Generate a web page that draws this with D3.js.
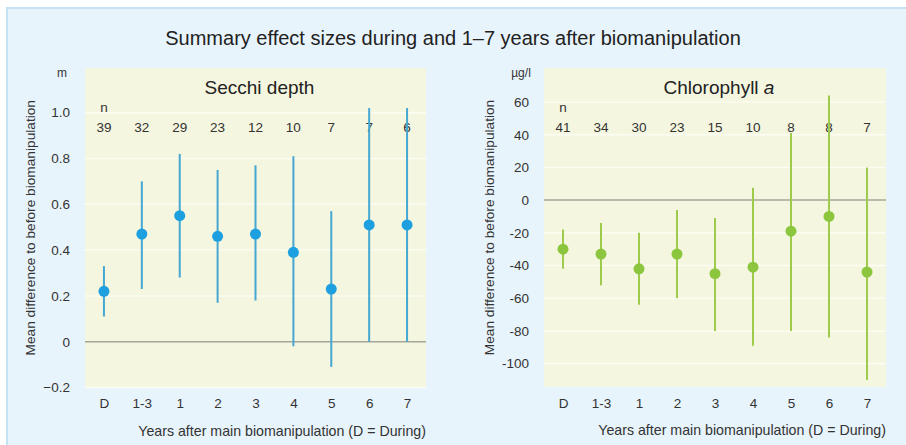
<!DOCTYPE html>
<html>
<head>
<meta charset="utf-8">
<script src="https://cdn.jsdelivr.net/npm/d3@7"></script>
<style>
body{margin:0;background:#fff;font-family:"Liberation Sans",Arial,sans-serif;}
</style>
</head>
<body>
<svg id="chart" width="906" height="445"></svg>
<script>
var cats = ["D","1-3","1","2","3","4","5","6","7"]

// Secchi depth (m)
var secchiN = [39,32,29,23,12,10,7,7,6]
var secchiMean = [0.22,0.47,0.55,0.46,0.47,0.39,0.23,0.51,0.51]
var secchiLow  = [0.11,0.23,0.28,0.17,0.18,-0.02,-0.11,0.0,0.0]
var secchiHigh = [0.33,0.70,0.82,0.75,0.77,0.81,0.57,1.02,1.02]
var secchiTicks = [-0.2,0,0.2,0.4,0.6,0.8,1.0]

// Chlorophyll a (ug/l)
var chlN = [41,34,30,23,15,10,8,8,7]
var chlMean = [-30,-33,-42,-33,-45,-41,-19,-10,-44]
var chlLow  = [-42,-52,-64,-60,-80,-89,-80,-84,-110]
var chlHigh = [-18,-14,-20,-6,-11,7.5,41,64,20]
var chlTicks = [-100,-80,-60,-40,-20,0,20,40,60]

var width=906, height=445
var svg = d3.select("#chart")

// outer panel
svg.append("rect").attr("x",7).attr("y",8).attr("width",width).attr("height",height)
   .attr("fill","#e8f4fc").attr("stroke","#c4e2f3").attr("stroke-width",2)

svg.append("text").attr("x",453).attr("y",45).attr("text-anchor","middle")
   .attr("font-size",20).attr("fill","#222")
   .text("Summary effect sizes during and 1\u20137 years after biomanipulation")

function panel(opt){
    var g = svg.append("g")
    var x = d3.scalePoint().domain(cats).range([opt.x0,opt.x1]).padding(0.5)
    var y = d3.scaleLinear().domain(opt.domain).range([opt.y1,opt.y0])

    g.append("rect").attr("x",opt.x0).attr("y",opt.y0)
     .attr("width",opt.x1-opt.x0).attr("height",opt.y1-opt.y0).attr("fill","#f4f6df")

    // faint grid
    g.selectAll(".grid").data(opt.ticks.filter(d=>d!=0)).join("line")
     .attr("x1",opt.x0).attr("x2",opt.x1)
     .attr("y1",d=>y(d)).attr("y2",d=>y(d))
     .attr("stroke","#fbfcf2").attr("stroke-width",1.5)

    g.append("line").attr("x1",opt.x0).attr("x2",opt.x1)
     .attr("y1",y(0)).attr("y2",y(0)).attr("stroke","#a4a69a").attr("stroke-width",1.5)

    // y axis labels
    var ya = g.append("g").attr("transform","translate("+(opt.x0-12)+",0)")
       .call(d3.axisLeft(y).tickValues(opt.ticks).tickSize(0).tickFormat(opt.fmt))
    ya.select(".domain").remove()
    ya.selectAll("text").attr("font-size",13.5).attr("fill","#333")
       .attr("font-family","Liberation Sans, Arial, sans-serif")

    // x axis labels
    var xa = g.append("g").attr("transform","translate(0,"+(opt.y1+8)+")")
       .call(d3.axisBottom(x).tickSize(0))
    xa.select(".domain").remove()
    xa.selectAll("text").attr("font-size",13.5).attr("fill","#333")
       .attr("font-family","Liberation Sans, Arial, sans-serif")

    g.append("text").attr("x",opt.x0-23).attr("y",opt.y0+9).attr("text-anchor","middle")
     .attr("font-size",12).attr("fill","#333").text(opt.unit)

    g.append("text").attr("x",opt.x1).attr("y",opt.y1+48).attr("text-anchor","end")
     .attr("font-size",14.2).attr("fill","#333").text("Years after main biomanipulation (D = During)")

    g.append("text").attr("transform","translate("+(opt.x0-50)+","+((opt.y0+opt.y1)/2)+") rotate(-90)")
     .attr("text-anchor","middle").attr("font-size",13.7).attr("fill","#333")
     .text("Mean difference to before biomanipulation")

    var t = g.append("text").attr("x",(opt.x0+opt.x1)/2+4).attr("y",opt.y0+26)
     .attr("text-anchor","middle").attr("font-size",19).attr("fill","#222")
    t.append("tspan").text(opt.title)
    if(opt.italic) t.append("tspan").attr("font-style","italic").text(" "+opt.italic)

    g.append("text").attr("x",x("D")).attr("y",opt.y0+44).attr("text-anchor","middle")
     .attr("font-size",13.5).attr("fill","#333").text("n")
    g.selectAll(".nlab").data(opt.n).join("text")
     .attr("x",(d,i)=>x(cats[i])).attr("y",opt.y0+64).attr("text-anchor","middle")
     .attr("font-size",13.5).attr("fill","#333").text(d=>d)

    g.selectAll(".err").data(opt.mean).join("line")
     .attr("x1",(d,i)=>x(cats[i])).attr("x2",(d,i)=>x(cats[i]))
     .attr("y1",(d,i)=>y(opt.low[i])).attr("y2",(d,i)=>y(opt.high[i]))
     .attr("stroke",opt.line).attr("stroke-width",2)

    g.selectAll(".dot").data(opt.mean).join("circle")
     .attr("cx",(d,i)=>x(cats[i])).attr("cy",d=>y(d)).attr("r",5.5)
     .attr("fill",opt.dot)
}

panel({x0:85,x1:426,y0:68,y1:387.5,domain:[-0.2,1.195],ticks:secchiTicks,
       fmt:d=>d==0?"0":d3.format(".1f")(d),unit:"m",title:"Secchi depth",
       n:secchiN,mean:secchiMean,low:secchiLow,high:secchiHigh,line:"#45a7d2",dot:"#1d9fe0"})

panel({x0:544,x1:886,y0:68,y1:387,domain:[-114.3,80.8],ticks:chlTicks,
       fmt:d=>String(d),unit:"\u00b5g/l",title:"Chlorophyll",italic:"a",
       n:chlN,mean:chlMean,low:chlLow,high:chlHigh,line:"#9ecb4d",dot:"#8cc63f"})
</script>
</body>
</html>
